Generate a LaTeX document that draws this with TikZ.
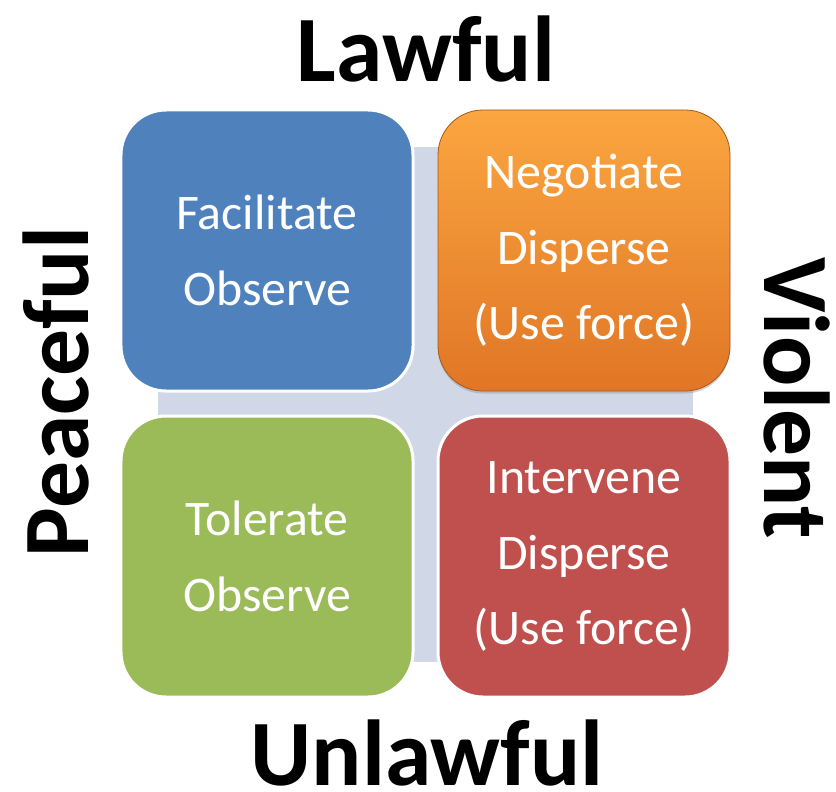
\documentclass[tikz,border=0pt]{standalone}
\usepackage{fontspec}
\setmainfont{Carlito}
\usetikzlibrary{positioning,shadows}
\definecolor{quadblue}{HTML}{4F81BD}
\definecolor{quadgreen}{HTML}{9BBB59}
\definecolor{quadred}{HTML}{C0504D}
\definecolor{quadorangetop}{RGB}{251,166,64}
\definecolor{quadorangebot}{RGB}{224,118,38}
\definecolor{crossgray}{RGB}{208,216,232}

\begin{document}
\begin{tikzpicture}[x=1bp, y=-1bp,
  quad/.style={draw=white, line width=3bp, rounded corners=45bp, minimum width=292bp, minimum height=281bp, text=white, align=center, font=\fontsize{50}{76}\selectfont},
  sidelbl/.style={anchor=base, inner sep=0pt, font=\fontsize{94}{100}\selectfont\bfseries}]
  \useasboundingbox (0,0) rectangle (836,792);
  \node[fill=crossgray, minimum width=535bp, minimum height=515bp] (cross) at (425.5,404.5) {};
  \node[quad, fill=quadblue] (facilitate) at (267,250.5) {Facilitate\\Observe};
  \node[quad, right=22bp of facilitate, draw=quadorangebot!75!black, line width=0.8bp, outer sep=1.5bp, top color=quadorangetop, bottom color=quadorangebot, drop shadow={opacity=0.35, shadow xshift=0bp, shadow yshift=-2.5bp}] (negotiate) {Negotiate\\Disperse\\(Use force)};
  \node[quad, below=22bp of facilitate, fill=quadgreen] (tolerate) {Tolerate\\Observe};
  \node[quad, below=22bp of negotiate, fill=quadred] (intervene) {Intervene\\Disperse\\(Use force)};
  \node[sidelbl] (lawful) at (426,82) {Lawful};
  \node[sidelbl] (unlawful) at (427,785) {Unlawful};
  \node[sidelbl, rotate=90] (peaceful) at (88,392) {Peaceful};
  \node[sidelbl, rotate=-90] (violent) at (764,398) {Violent};
\end{tikzpicture}
\end{document}
